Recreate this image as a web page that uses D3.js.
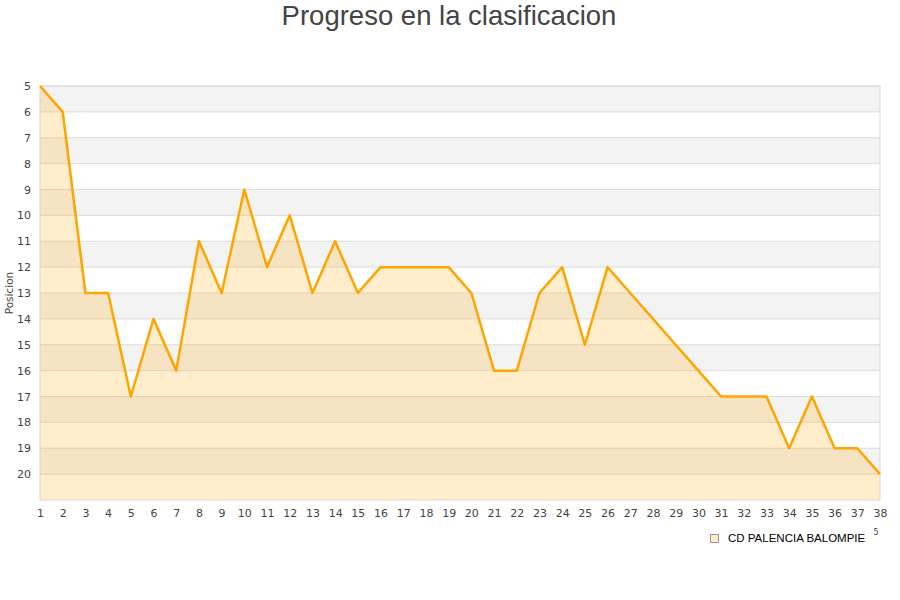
<!DOCTYPE html>
<html>
<head>
<meta charset="utf-8">
<script src="https://cdn.jsdelivr.net/npm/d3@7"></script>
<style>
  body { margin: 0; background: #fff; }
  svg { display: block; }
</style>
</head>
<body>
<div id="chart"></div>
<script>
var width = 900;
var height = 600;

// jornada 1..38 and the team's position after each one
var jornadas = d3.range(1, 39);
var posiciones = [5, 6, 13, 13, 17, 14, 16, 11, 13, 9, 12, 10, 13, 11, 13, 12, 12, 12, 12, 13,
  16, 16, 13, 12, 15, 12, 13, 14, 15, 16, 17, 17, 17, 19, 17, 19, 19, 20];
var yTicks = d3.range(5, 21);
var equipo = "CD PALENCIA BALOMPIE";
var titulo = "Progreso en la clasificacion";

var padLeft = 40, padRight = 880, padTop = 86, padBottom = 500;

var svg = d3.select("#chart").append("svg")
  .attr("width", width)
  .attr("height", height);

var x = d3.scaleLinear().domain([1, 38]).range([padLeft, padRight]);
var y = d3.scaleLinear().domain([5, 21]).range([padTop, padBottom]);

// striped background bands
svg.append("g").selectAll("rect")
  .data(yTicks)
  .enter().append("rect")
  .attr("x", padLeft)
  .attr("width", padRight - padLeft)
  .attr("y", d => y(d))
  .attr("height", d => y(d + 1) - y(d))
  .attr("fill", d => d % 2 === 1 ? "#f3f3f3" : "#ffffff");

// gridlines
svg.append("g").selectAll("line")
  .data(yTicks)
  .enter().append("line")
  .attr("x1", padLeft).attr("x2", padRight)
  .attr("y1", d => y(d)).attr("y2", d => y(d))
  .attr("stroke", "#dddddd")
  .attr("stroke-width", 1);

var pts = jornadas.map((j, i) => [j, posiciones[i]]);

// area under the line
svg.append("path")
  .datum(pts)
  .attr("fill", "rgba(255,165,0,0.2)")
  .attr("d", d3.area().x(d => x(d[0])).y0(padBottom).y1(d => y(d[1])));

// frame
svg.append("rect")
  .attr("x", padLeft).attr("y", padTop)
  .attr("width", padRight - padLeft).attr("height", padBottom - padTop)
  .attr("fill", "none")
  .attr("stroke", "#d8d8d8");

svg.append("path")
  .datum(pts)
  .attr("fill", "none")
  .attr("stroke", "#ffa500")
  .attr("stroke-width", 2.5)
  .attr("stroke-linejoin", "round")
  .attr("d", d3.line().x(d => x(d[0])).y(d => y(d[1])));

// axes
var yaxis = d3.axisLeft(y).tickValues(yTicks).tickSize(0).tickPadding(9);
var gy = svg.append("g").attr("transform", "translate(" + padLeft + ",0)").call(yaxis);
gy.select(".domain").remove();
gy.selectAll("text").attr("font-family", "DejaVu Sans").attr("font-size", 11).attr("fill", "#444");

var xaxis = d3.axisBottom(x).tickValues(jornadas).tickFormat(d3.format("d")).tickSize(0).tickPadding(9);
var gx = svg.append("g").attr("transform", "translate(0," + padBottom + ")").call(xaxis);
gx.select(".domain").remove();
gx.selectAll("text").attr("font-family", "DejaVu Sans").attr("font-size", 11).attr("fill", "#444");

svg.append("text")
  .attr("transform", "translate(13," + ((padTop + padBottom) / 2) + ") rotate(-90)")
  .attr("text-anchor", "middle")
  .attr("font-family", "DejaVu Sans")
  .attr("font-size", 10.5)
  .attr("fill", "#444")
  .text("Posicion");

// title
svg.append("text")
  .attr("x", 449).attr("y", 25)
  .attr("text-anchor", "middle")
  .attr("font-family", "Liberation Sans")
  .attr("font-size", 27.5)
  .attr("fill", "#444")
  .text(titulo);

// legend
svg.append("rect")
  .attr("x", 710.5).attr("y", 534.5)
  .attr("width", 8).attr("height", 8)
  .attr("fill", "#ffebc8")
  .attr("stroke", "#999");
svg.append("text")
  .attr("x", 728).attr("y", 542)
  .attr("font-family", "Liberation Sans")
  .attr("font-size", 11.5)
  .attr("fill", "#000")
  .text(equipo);
svg.append("text")
  .attr("x", 876).attr("y", 535)
  .attr("text-anchor", "middle")
  .attr("font-family", "DejaVu Sans")
  .attr("font-size", 8)
  .attr("fill", "#444")
  .text("5");
</script>
</body>
</html>
